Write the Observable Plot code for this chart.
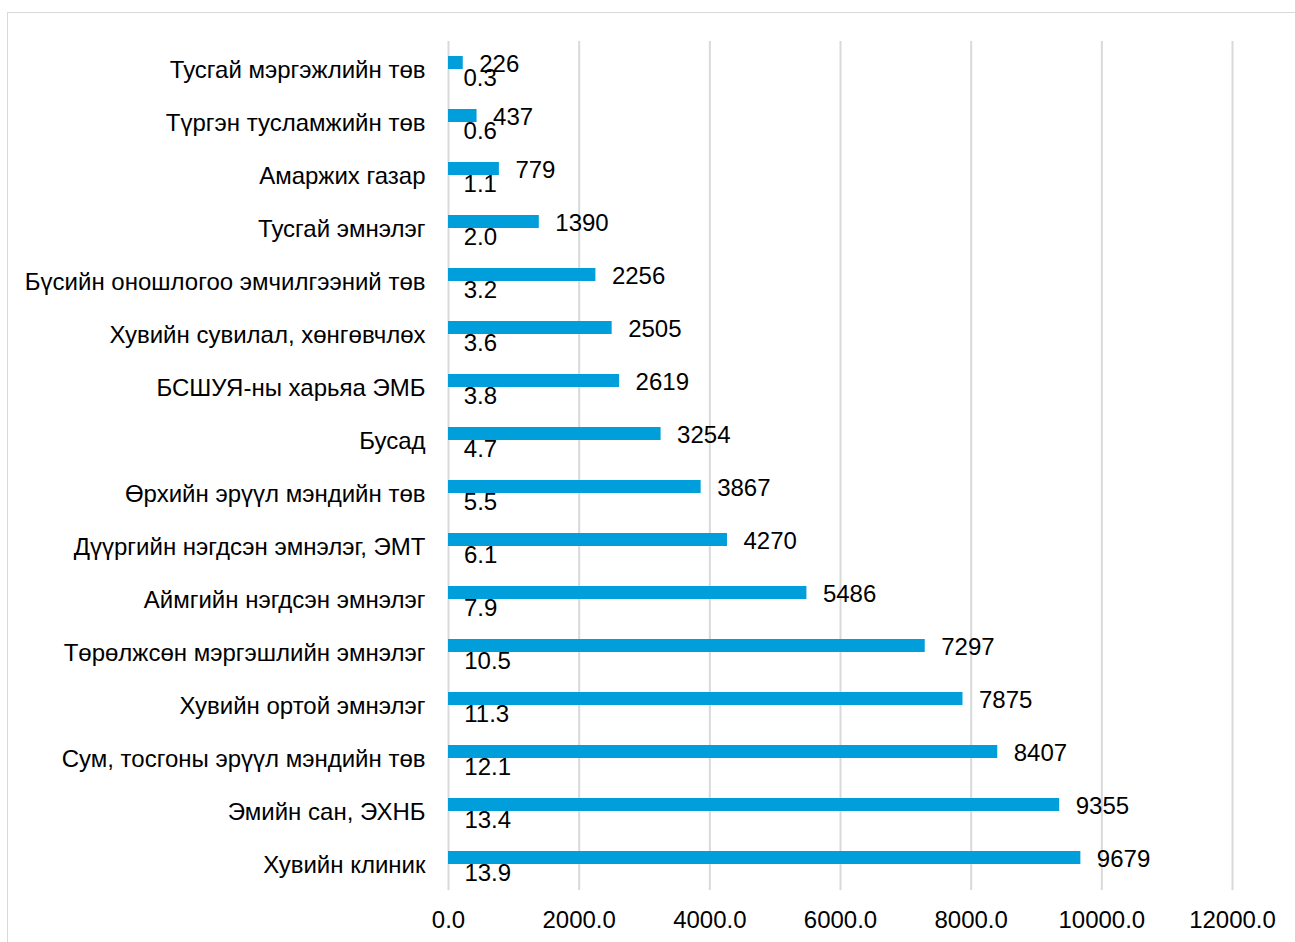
<!DOCTYPE html>
<html>
<head>
<meta charset="utf-8">
<script src="https://cdn.jsdelivr.net/npm/d3@7"></script>
<script src="https://cdn.jsdelivr.net/npm/@observablehq/plot@0.6"></script>
<style>
  html, body { margin: 0; padding: 0; background: #fff; }
  #wrap { position: relative; width: 1295px; height: 942px; overflow: hidden; }
  #frame { position: absolute; left: 7px; top: 12px; width: 1300px; height: 950px; border: 1.5px solid #d9d9d9; box-sizing: border-box; }
  #chart { position: absolute; left: 0; top: 0; }
</style>
</head>
<body>
<div id="wrap">
  <div id="frame"></div>
  <div id="chart"></div>
</div>
<script>
const categories = [
  "Тусгай мэргэжлийн төв",
  "Түргэн тусламжийн төв",
  "Амаржих газар",
  "Тусгай эмнэлэг",
  "Бүсийн оношлогоо эмчилгээний төв",
  "Хувийн сувилал, хөнгөвчлөх",
  "БСШУЯ-ны харьяа ЭМБ",
  "Бусад",
  "Өрхийн эрүүл мэндийн төв",
  "Дүүргийн нэгдсэн эмнэлэг, ЭМТ",
  "Аймгийн нэгдсэн эмнэлэг",
  "Төрөлжсөн мэргэшлийн эмнэлэг",
  "Хувийн ортой эмнэлэг",
  "Сум, тосгоны эрүүл мэндийн төв",
  "Эмийн сан, ЭХНБ",
  "Хувийн клиник"
];
const counts = [226, 437, 779, 1390, 2256, 2505, 2619, 3254, 3867, 4270, 5486, 7297, 7875, 8407, 9355, 9679];
const percents = [0.3, 0.6, 1.1, 2.0, 3.2, 3.6, 3.8, 4.7, 5.5, 6.1, 7.9, 10.5, 11.3, 12.1, 13.4, 13.9];
const xTicks = [0, 2000, 4000, 6000, 8000, 10000, 12000];

const data = categories.map((c, i) => ({category: c, count: counts[i], pct: percents[i]}));
const font = "'Liberation Sans', Arial, sans-serif";

const plot = Plot.plot({
  width: 1295,
  height: 942,
  marginLeft: 448,
  marginRight: 63,
  marginTop: 41,
  marginBottom: 52,
  style: {fontFamily: font, fontSize: "24px", color: "#000", background: "transparent"},
  x: {domain: [0, 12000], ticks: xTicks, tickFormat: d => d.toFixed(1), label: null, tickSize: 0, tickPadding: 21},
  y: {domain: categories, padding: 0, label: null, tickSize: 0, tickPadding: 23},
  marks: [
    Plot.gridX(xTicks, {stroke: "#d9d9d9", strokeOpacity: 1, strokeWidth: 2}),
    Plot.barX(data, {x: "count", y: "category", fill: "#009fdb", insetTop: 14, insetBottom: 26}),
    Plot.text(data, {x: "count", y: "category", text: d => String(d.count), textAnchor: "start", dx: 16, dy: -4.5, fontSize: 24, fill: "#000"}),
    Plot.text(data, {x: "pct", y: "category", text: d => d.pct.toFixed(1), textAnchor: "start", dx: 15, dy: 9, fontSize: 24, fill: "#000"}),
    Plot.axisX({ticks: xTicks, tickFormat: d => d.toFixed(1), tickSize: 0, tickPadding: 20, fontSize: 24, label: null}),
    Plot.axisY({tickSize: 0, tickPadding: 23, fontSize: 24, dy: 1.5, label: null})
  ]
});
document.getElementById("chart").appendChild(plot);
</script>
</body>
</html>
